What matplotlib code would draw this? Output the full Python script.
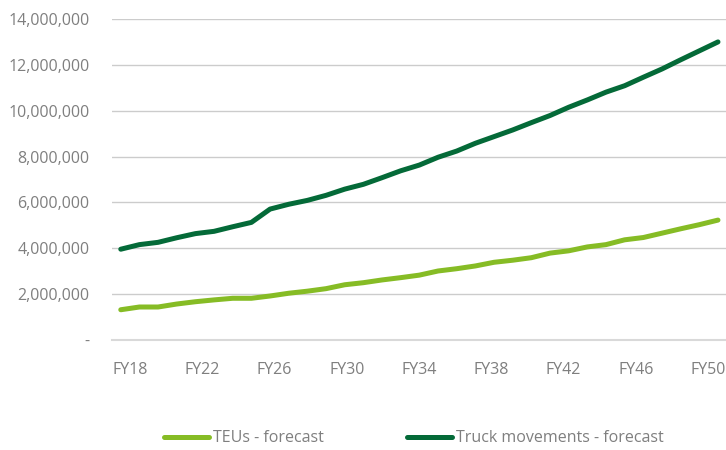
import numpy as np
from matplotlib import pyplot as plt
from matplotlib.ticker import FuncFormatter

# --- Data ---
years = list(range(18, 51))
teus = [1.32, 1.44, 1.44, 1.57, 1.67, 1.75, 1.82, 1.82, 1.92, 2.04, 2.13,
        2.24, 2.41, 2.50, 2.62, 2.72, 2.83, 3.01, 3.11, 3.23, 3.39, 3.48,
        3.59, 3.79, 3.89, 4.06, 4.16, 4.37, 4.47, 4.66, 4.85, 5.03, 5.23]
trucks = [3.96, 4.16, 4.26, 4.46, 4.64, 4.74, 4.94, 5.13, 5.71, 5.92, 6.09,
          6.31, 6.58, 6.79, 7.08, 7.38, 7.63, 7.97, 8.24, 8.58, 8.87, 9.16,
          9.48, 9.79, 10.15, 10.47, 10.81, 11.09, 11.46, 11.82, 12.22, 12.61, 13.0]
tick_labels = ["FY18", "FY22", "FY26", "FY30", "FY34", "FY38", "FY42", "FY46", "FY50"]

teus = np.array(teus) * 1e6
trucks = np.array(trucks) * 1e6

LIGHT = "#86bc25"
DARK = "#046a38"
GREY_TXT = "#7f7f7f"

plt.rcParams['font.family'] = ['Open Sans', 'DejaVu Sans']

fig = plt.figure(figsize=(7.26, 4.5), dpi=100)
ax = fig.add_axes([0.154, 0.2444, 0.846, 0.7134])

ax.plot(years, teus, color=LIGHT, lw=3.6, solid_capstyle='round', label="TEUs - forecast")
ax.plot(years, trucks, color=DARK, lw=3.6, solid_capstyle='round', label="Truck movements - forecast")

ax.set_ylim(0, 14e6)
ax.set_yticks(np.arange(0, 14e6 + 1, 2e6))
ax.yaxis.set_major_formatter(FuncFormatter(lambda v, p: "-" if v == 0 else f"{v:,.0f}"))
ax.set_xlim(17.52, 50.43)
# excel squeezes category labels slightly inward
ax.set_xticks(np.linspace(18.51, 49.46, len(tick_labels)))
ax.set_xticklabels(tick_labels)

ax.grid(axis='y', color="#cccccc", lw=1.0)
ax.set_axisbelow(True)
for s in ['top', 'right', 'left']:
    ax.spines[s].set_visible(False)
ax.spines['bottom'].set_color("#d9d9d9")
ax.spines['bottom'].set_linewidth(1.5)
ax.tick_params(axis='both', length=0, labelsize=11.5, labelcolor=GREY_TXT)
ax.tick_params(axis='y', pad=16)
ax.tick_params(axis='x', pad=16)

fig.legend(loc='center', bbox_to_anchor=(0.57, 0.026), ncol=2, frameon=False,
           fontsize=11.5, labelcolor=GREY_TXT, handlelength=2.8, handletextpad=0.25,
           columnspacing=5.2)

fig.savefig("out.png", dpi=100)
